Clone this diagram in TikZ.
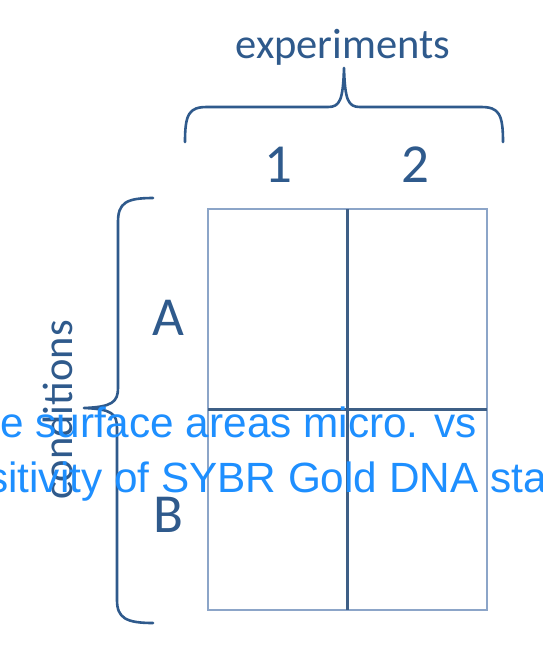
\documentclass[tikz,border=0pt]{standalone}
\usepackage{fontspec}
\setmainfont{Carlito}
\newfontfamily\overlayfont{Liberation Sans}
\definecolor{ink}{HTML}{2F5A8C}
\definecolor{gridouter}{HTML}{8CA5C8}
\definecolor{gridinner}{HTML}{3E5F86}
\definecolor{overlay}{HTML}{1E8FFF}
\begin{document}
\begin{tikzpicture}[x=1pt,y=-1pt,
  label/.style={inner sep=0pt, text=ink, anchor=base},
  biglabel/.style={label, font=\fontsize{55}{60}\selectfont},
  wordlabel/.style={label, font=\fontsize{42.5}{50}\selectfont},
  cell/.style={draw=gridouter, line width=1.6pt, minimum width=139.5pt, minimum height=200.5pt, inner sep=0pt, outer sep=0pt},
  brace/.style={draw=ink, line width=2.6pt, line cap=round, line join=round},
  divider/.style={draw=gridinner, line width=2.4pt},
  overlaytext/.style={inner sep=0pt, anchor=base west, text=overlay, font=\overlayfont\fontsize{42.3}{50}\selectfont}]
  \useasboundingbox (0,0) rectangle (542,649);
  \fill[white] (0,0) rectangle (542,649);
  \clip (0,0) rectangle (542,649);

  % the 2x2 grid of cells
  \node[cell, anchor=north west] (c1A) at (208,209) {};
  \node[cell, anchor=north west] (c2A) at (347.5,209) {};
  \node[cell, anchor=north west] (c1B) at (208,409.5) {};
  \node[cell, anchor=north west] (c2B) at (347.5,409.5) {};

  % darker dividers between the cells
  \draw[divider] (c1A.north east) -- (c1B.south east);
  \draw[divider] (c1A.south west) -- (c2A.south east);

  % column and row headings
  \node[biglabel] (one) at (278,182) {1};
  \node[biglabel] (two) at (415,182) {2};
  \node[biglabel] (rowA) at (168,335) {A};
  \node[biglabel] (rowB) at (168,532) {B};

  % group titles
  \node[wordlabel] (exp) at (343,58) {experiments};
  \node[wordlabel, rotate=90] (cond) at (72,410) {conditions};

  % brace over the experiments
  \coordinate (tl) at (185,142);
  \coordinate (tr) at (503,142);
  \coordinate (ttip) at (344,68);
  \path[brace] (tl) .. controls (185,114) and (189,107) .. (207,107)
    -- (328,107) .. controls (340,107) and (343,100) .. (ttip)
    .. controls (345,100) and (348,107) .. (360,107)
    -- (481,107) .. controls (499,107) and (503,114) .. (tr);

  % brace beside the conditions
  \coordinate (lt) at (153,198);
  \coordinate (lb) at (153,623);
  \coordinate (ltip) at (84,408);
  \path[brace] (lt) .. controls (126,198) and (118,203) .. (118,222)
    -- (118,388) .. controls (118,402) and (112,407) .. (ltip)
    .. controls (112,409) and (117,414) .. (117,428)
    -- (117,600) .. controls (117,618) and (126,623) .. (lb);

  % overlaid caption text
  \node[overlaytext] (capA) at (0,437) {e surface areas micro. vs};
  \node[overlaytext] (capB) at (-13,492) {sitivity of SYBR Gold DNA sta};
\end{tikzpicture}
\end{document}
